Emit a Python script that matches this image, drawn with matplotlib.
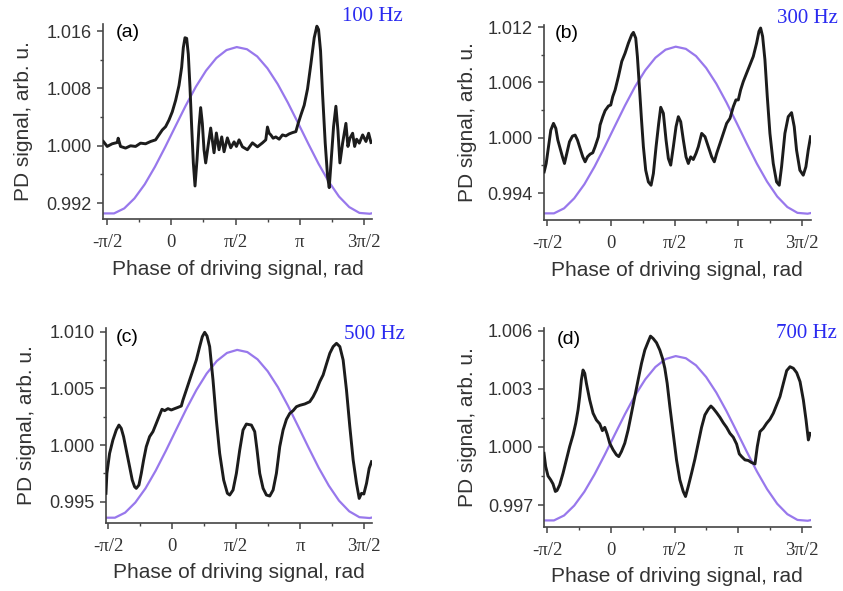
import matplotlib.pyplot as plt
import numpy as np

plt.rcParams['font.family'] = ['Liberation Sans', 'DejaVu Sans']

# Photodiode signal vs phase (rad) for each driving frequency
phase_a = [-1.66, -1.567, -1.445, -1.322, -1.298, -1.241, -1.118, -0.996, -0.873, -0.751,
           -0.629, -0.506, -0.384, -0.302, -0.220, -0.139, -0.057, 0.024, 0.106, 0.188,
           0.253, 0.294, 0.335, 0.376, 0.416, 0.457, 0.498, 0.539, 0.580, 0.629,
           0.678, 0.718, 0.759, 0.800, 0.841, 0.898, 0.963, 1.045, 1.102, 1.167,
           1.233, 1.290, 1.371, 1.453, 1.535, 1.592, 1.657, 1.739, 1.861, 1.984,
           2.106, 2.229, 2.310, 2.351, 2.392, 2.433, 2.490, 2.555, 2.637, 2.718,
           2.800, 2.882, 2.963, 3.045, 3.102, 3.167, 3.249, 3.331, 3.412, 3.494,
           3.559, 3.600, 3.649, 3.698, 3.763, 3.820, 3.861, 3.910, 3.967, 4.024,
           4.073, 4.122, 4.188, 4.269, 4.318, 4.367, 4.433, 4.482, 4.531, 4.596,
           4.678, 4.759, 4.824, 4.882]
signal_a = [1.00060, 0.99991, 1.00028, 1.00046, 1.00106, 0.99991, 0.99968, 1.00000, 0.99991, 1.00037,
            1.00028, 1.00060, 1.00083, 1.00152, 1.00221, 1.00267, 1.00359, 1.00474, 1.00634, 1.00841,
            1.01094, 1.01370, 1.01508, 1.01499, 1.01278, 1.00818, 1.00267, 0.99761, 0.99439, 0.99807,
            1.00267, 1.00533, 1.00313, 0.99945, 0.99761, 0.99991, 1.00248, 0.99903, 1.00179, 0.99945,
            1.00124, 0.99917, 1.00110, 0.99972, 1.00055, 0.99991, 1.00083, 0.99986, 0.99945, 1.00041,
            0.99986, 1.00041, 1.00083, 1.00262, 1.00175, 1.00152, 1.00106, 1.00124, 1.00092, 1.00152,
            1.00138, 1.00166, 1.00184, 1.00198, 1.00313, 1.00428, 1.00566, 1.00795, 1.01140, 1.01508,
            1.01669, 1.01623, 1.01324, 1.00726, 1.00037, 0.99577, 0.99416, 0.99807, 1.00267, 1.00552,
            1.00221, 0.99761, 1.00037, 1.00313, 0.99991, 1.00106, 1.00175, 0.99991, 1.00092, 1.00037,
            1.00152, 1.00060, 1.00175, 1.00046]

phase_b = [-1.641, -1.591, -1.534, -1.477, -1.411, -1.354, -1.304, -1.247, -1.190, -1.140,
           -1.083, -1.017, -0.943, -0.878, -0.820, -0.755, -0.689, -0.632, -0.574, -0.509,
           -0.443, -0.386, -0.304, -0.263, -0.197, -0.139, -0.057, 0.0, 0.049, 0.107,
           0.189, 0.271, 0.353, 0.435, 0.517, 0.558, 0.615, 0.656, 0.705, 0.755,
           0.804, 0.861, 0.927, 0.993, 1.050, 1.116, 1.181, 1.231, 1.296, 1.362,
           1.419, 1.477, 1.542, 1.608, 1.665, 1.723, 1.788, 1.854, 1.911, 1.969,
           2.034, 2.100, 2.157, 2.240, 2.322, 2.404, 2.486, 2.551, 2.609, 2.691,
           2.773, 2.855, 2.937, 3.019, 3.084, 3.142, 3.199, 3.265, 3.347, 3.429,
           3.511, 3.593, 3.651, 3.692, 3.741, 3.798, 3.856, 3.921, 4.003, 4.085,
           4.151, 4.208, 4.290, 4.372, 4.454, 4.520, 4.577, 4.659, 4.742, 4.807,
           4.865, 4.922]
signal_b = [0.99630, 0.99721, 0.99902, 1.00083, 1.00156, 1.00102, 0.99975, 0.99884, 0.99793, 0.99721,
            0.99830, 0.99956, 1.00018, 1.00029, 0.99975, 0.99884, 0.99793, 0.99739, 0.99793, 0.99822,
            0.99837, 0.99902, 1.00011, 1.00138, 1.00228, 1.00294, 1.00344, 1.00355, 1.00446, 1.00518,
            1.00664, 1.00827, 1.00917, 1.01026, 1.01117, 1.01142, 1.01080, 1.00881, 1.00555, 1.00210,
            0.99902, 0.99648, 0.99521, 0.99485, 0.99612, 0.99902, 1.00156, 1.00330, 1.00265, 0.99975,
            0.99775, 0.99703, 0.99902, 1.00120, 1.00228, 1.00174, 0.99975, 0.99793, 0.99721, 0.99793,
            0.99764, 0.99830, 0.99902, 1.00047, 1.00011, 0.99902, 0.99793, 0.99739, 0.99830, 0.99938,
            1.00047, 1.00156, 1.00210, 1.00337, 1.00410, 1.00410, 1.00518, 1.00609, 1.00700, 1.00790,
            1.00881, 1.01026, 1.01153, 1.01189, 1.01099, 1.00845, 1.00446, 1.00047, 0.99721, 0.99521,
            0.99485, 0.99685, 1.00047, 1.00228, 1.00272, 1.00120, 0.99866, 0.99648, 0.99594, 0.99685,
            0.99866, 1.00011]

phase_c = [-1.62, -1.597, -1.531, -1.450, -1.368, -1.302, -1.245, -1.188, -1.122, -1.040,
           -0.975, -0.917, -0.876, -0.811, -0.753, -0.696, -0.631, -0.549, -0.467, -0.385,
           -0.303, -0.246, -0.180, -0.098, -0.016, 0.066, 0.147, 0.229, 0.270, 0.352,
           0.434, 0.516, 0.598, 0.680, 0.745, 0.803, 0.860, 0.925, 1.007, 1.089,
           1.171, 1.269, 1.360, 1.417, 1.499, 1.581, 1.663, 1.744, 1.826, 1.949,
           2.031, 2.088, 2.154, 2.236, 2.318, 2.400, 2.482, 2.563, 2.645, 2.727,
           2.809, 2.891, 2.973, 3.055, 3.137, 3.260, 3.382, 3.464, 3.546, 3.628,
           3.710, 3.792, 3.874, 3.956, 4.038, 4.120, 4.201, 4.283, 4.365, 4.447,
           4.529, 4.595, 4.652, 4.709, 4.775, 4.840, 4.898]
signal_c = [0.99574, 0.99750, 0.99926, 1.00044, 1.00132, 1.00176, 1.00147, 1.00074, 0.99956, 0.99809,
            0.99691, 0.99632, 0.99618, 0.99647, 0.99750, 0.99868, 0.99985, 1.00074, 1.00118, 1.00191,
            1.00265, 1.00315, 1.00303, 1.00321, 1.00309, 1.00321, 1.00332, 1.00344, 1.00397, 1.00485,
            1.00574, 1.00662, 1.00750, 1.00868, 1.00956, 1.00994, 1.00962, 1.00868, 1.00574, 1.00221,
            0.99926, 0.99691, 0.99574, 0.99559, 0.99603, 0.99750, 0.99956, 1.00132, 1.00185, 1.00176,
            1.00118, 0.99956, 0.99750, 0.99618, 0.99559, 0.99550, 0.99603, 0.99750, 0.99985, 1.00132,
            1.00226, 1.00279, 1.00303, 1.00338, 1.00350, 1.00362, 1.00382, 1.00426, 1.00485, 1.00559,
            1.00618, 1.00715, 1.00809, 1.00868, 1.00897, 1.00868, 1.00750, 1.00485, 1.00162, 0.99868,
            0.99662, 0.99529, 0.99574, 0.99568, 0.99662, 0.99794, 0.99853]

phase_d = [-1.645, -1.604, -1.546, -1.480, -1.423, -1.365, -1.324, -1.258, -1.176, -1.094,
           -1.012, -0.929, -0.863, -0.806, -0.765, -0.724, -0.683, -0.641, -0.600, -0.518,
           -0.436, -0.354, -0.271, -0.206, -0.148, -0.090, -0.025, 0.058, 0.140, 0.197,
           0.263, 0.345, 0.428, 0.510, 0.592, 0.674, 0.757, 0.839, 0.921, 0.979,
           1.044, 1.127, 1.209, 1.275, 1.332, 1.390, 1.456, 1.538, 1.620, 1.702,
           1.785, 1.842, 1.908, 1.990, 2.072, 2.155, 2.237, 2.319, 2.401, 2.467,
           2.525, 2.607, 2.689, 2.771, 2.853, 2.936, 3.018, 3.100, 3.166, 3.224,
           3.306, 3.388, 3.470, 3.553, 3.610, 3.676, 3.758, 3.840, 3.923, 4.005,
           4.087, 4.169, 4.252, 4.334, 4.416, 4.498, 4.581, 4.663, 4.745, 4.811,
           4.868, 4.910]
signal_d = [0.99967, 0.99899, 0.99850, 0.99830, 0.99809, 0.99770, 0.99775, 0.99804, 0.99864, 0.99933,
            1.00002, 1.00062, 1.00122, 1.00191, 1.00260, 1.00346, 1.00397, 1.00380, 1.00328, 1.00242,
            1.00174, 1.00139, 1.00119, 1.00084, 1.00101, 1.00067, 1.00019, 0.99985, 0.99959, 0.99950,
            0.99976, 1.00019, 1.00088, 1.00174, 1.00260, 1.00346, 1.00431, 1.00500, 1.00543, 1.00572,
            1.00560, 1.00538, 1.00500, 1.00457, 1.00406, 1.00328, 1.00208, 1.00070, 0.99933, 0.99830,
            0.99770, 0.99744, 0.99795, 0.99864, 0.99936, 1.00019, 1.00101, 1.00165, 1.00194, 1.00211,
            1.00199, 1.00177, 1.00153, 1.00125, 1.00101, 1.00070, 1.00050, 1.00015, 0.99964, 0.99950,
            0.99933, 0.99930, 0.99919, 0.99912, 1.00002, 1.00079, 1.00096, 1.00122, 1.00143, 1.00174,
            1.00217, 1.00260, 1.00328, 1.00394, 1.00414, 1.00406, 1.00383, 1.00337, 1.00242, 1.00139,
            1.00036, 1.00070]

# Driving signal: shape normalised to 0..1, scaled per panel
drive_phase = [-1.65, -1.40, -1.15, -0.90, -0.65, -0.40, -0.15, 0.10, 0.35, 0.60,
               0.85, 1.10, 1.35, 1.60, 1.85, 2.10, 2.35, 2.60, 2.85, 3.10,
               3.35, 3.60, 3.85, 4.10, 4.35, 4.60, 4.85, 4.93]
drive_shape = [0.004, 0.004, 0.034, 0.094, 0.178, 0.283, 0.401, 0.525, 0.648, 0.762,
               0.859, 0.934, 0.982, 1.000, 0.987, 0.944, 0.873, 0.779, 0.667, 0.545,
               0.421, 0.301, 0.194, 0.105, 0.042, 0.007, 0.002, 0.006]
drive_lo = [0.99047, 0.99173, 0.99353, 0.99617]
drive_hi = [1.01378, 1.00987, 1.00839, 1.00469]

panel_tags = ['(a)', '(b)', '(c)', '(d)']
freq_labels = ['100 Hz', '300 Hz', '500 Hz', '700 Hz']
y_ticks = [[0.992, 1.000, 1.008, 1.016],
           [0.994, 1.000, 1.006, 1.012],
           [0.995, 1.000, 1.005, 1.010],
           [0.997, 1.000, 1.003, 1.006]]
y_limits = [(0.98978, 1.0170), (0.99108, 1.01222), (0.99315, 1.0103), (0.99588, 1.00614)]
x_limits = [(-1.669, 4.907), (-1.645, 4.926), (-1.62, 4.916), (-1.645, 4.926)]
x_tick_labels = ['-π/2', '0', 'π/2', 'π', '3π/2']

phases = [phase_a, phase_b, phase_c, phase_d]
signals = [signal_a, signal_b, signal_c, signal_d]

# axes boxes in figure fraction
boxes = [[0.1222, 0.6294, 0.3191, 0.3300],
         [0.6453, 0.6277, 0.3164, 0.3300],
         [0.1257, 0.1156, 0.3159, 0.3290],
         [0.6453, 0.1088, 0.3164, 0.3362]]
tag_pos = [(0.046, 0.955), (0.041, 0.955), (0.036, 0.95), (0.049, 0.94)]
freq_pos = [(0.478, 0.972), (0.994, 0.968), (0.480, 0.434), (0.993, 0.436)]
ylabel_pad = [10, 8, 10, 8]

text_col = '#333333'
fig = plt.figure(figsize=(8.43, 5.91), dpi=100)

for i in range(4):
    ax = fig.add_axes(boxes[i])
    lo, hi = drive_lo[i], drive_hi[i]
    drive = [lo + s * (hi - lo) for s in drive_shape]
    ax.plot(drive_phase, drive, color='#9878ec', lw=1.6, zorder=2)
    ax.plot(phases[i], signals[i], color='#1c1c1c', lw=2.1, zorder=3,
            solid_joinstyle='round')

    ax.set_xlim(*x_limits[i])
    ax.set_ylim(*y_limits[i])
    ax.set_xticks([-np.pi / 2, 0, np.pi / 2, np.pi, 3 * np.pi / 2])
    ax.set_xticklabels(x_tick_labels, family='Liberation Serif', fontsize=13.5)
    ax.set_xticks([-np.pi / 4, np.pi / 4, 3 * np.pi / 4, 5 * np.pi / 4], minor=True)
    yt = y_ticks[i]
    ax.set_yticks(yt)
    ax.set_yticklabels(['%.3f' % v for v in yt], fontsize=13)
    ax.set_yticks([(yt[k] + yt[k + 1]) / 2 for k in range(3)], minor=True)

    for side in ['top', 'right']:
        ax.spines[side].set_visible(False)
    for side in ['left', 'bottom']:
        ax.spines[side].set_color('#444444')
        ax.spines[side].set_linewidth(1.2)
    ax.tick_params(which='major', direction='out', length=4, width=1.1,
                   color='#444444', labelcolor=text_col)
    ax.tick_params(which='minor', direction='out', length=2.5, width=1.0, color='#444444')
    ax.tick_params(axis='x', pad=7)
    ax.tick_params(axis='y', pad=4)

    ax.set_xlabel('Phase of driving signal, rad', fontsize=15, color=text_col, labelpad=6)
    ax.set_ylabel('PD signal, arb. u.', fontsize=15, color=text_col, labelpad=ylabel_pad[i])

    ax.text(tag_pos[i][0], tag_pos[i][1], panel_tags[i], transform=ax.transAxes,
            fontsize=14, va='center', ha='left', color='black')
    fig.text(freq_pos[i][0], freq_pos[i][1], freq_labels[i], color='#2a2af0',
             family='Liberation Serif', fontsize=15, ha='right', va='center')

fig.savefig('out.png', dpi=100)
